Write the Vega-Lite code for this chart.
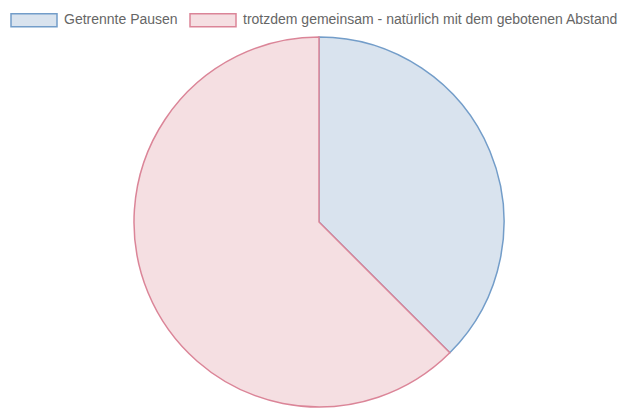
{
  "$schema": "https://vega.github.io/schema/vega-lite/v6.json",
  "width": 610,
  "height": 372,
  "autosize": {"type": "none"},
  "padding": {"left": 14, "top": 36, "right": 0, "bottom": 0},
  "background": "white",
  "config": {"view": {"stroke": null}},
  "data": {
    "values": [
      {"kategorie": "Getrennte Pausen", "anteil": 3},
      {"kategorie": "trotzdem gemeinsam - natürlich mit dem gebotenen Abstand", "anteil": 5}
    ]
  },
  "mark": {"type": "arc", "radius": 185, "strokeWidth": 1.5},
  "encoding": {
    "theta": {"field": "anteil", "type": "quantitative", "stack": true},
    "order": {"field": "kategorie", "sort": "ascending"},
    "color": {
      "field": "kategorie",
      "type": "nominal",
      "scale": {
        "domain": ["Getrennte Pausen", "trotzdem gemeinsam - natürlich mit dem gebotenen Abstand"],
        "range": ["#d9e3ee", "#f5dfe2"]
      },
      "legend": {
        "title": null,
        "orient": "none",
        "direction": "horizontal",
        "legendX": -4,
        "legendY": -40,
        "padding": 0,
        "symbolType": "M-1,-0.28H1V0.28H-1Z",
        "symbolSize": 2116,
        "symbolStrokeWidth": 1.5,
        "labelFont": "Liberation Sans",
        "labelFontSize": 14,
        "labelColor": "#666666",
        "labelOffset": 6,
        "columnPadding": 9,
        "labelLimit": 500
      }
    },
    "stroke": {
      "field": "kategorie",
      "type": "nominal",
      "scale": {
        "domain": ["Getrennte Pausen", "trotzdem gemeinsam - natürlich mit dem gebotenen Abstand"],
        "range": ["#739dc9", "#db8598"]
      },
      "legend": null
    }
  }
}
